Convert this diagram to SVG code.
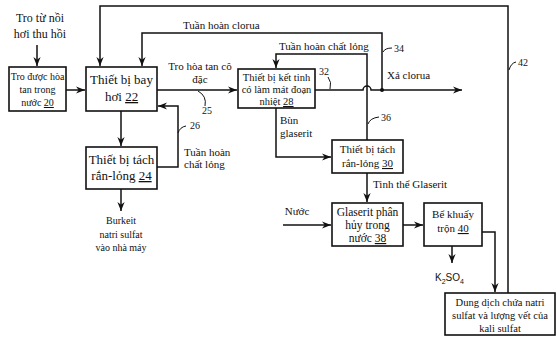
<svg xmlns="http://www.w3.org/2000/svg" width="557" height="340" viewBox="0 0 557 340">
<defs>
<marker id="ah" viewBox="0 0 10 10" refX="10" refY="5" markerWidth="9" markerHeight="9" markerUnits="userSpaceOnUse" orient="auto">
<path d="M0,1 L10,5 L0,9 L3,5 Z" fill="#111"/>
</marker>
</defs>
<style>
text{fill:#111;font-family:"Liberation Serif","Times New Roman","DejaVu Serif",serif;}
.box{fill:#fff;stroke:#111;stroke-width:1.6;}
.ln{fill:none;stroke:#111;stroke-width:1.5;}
.thin{fill:none;stroke:#111;stroke-width:1;}
.arr{marker-end:url(#ah);}
.c{text-anchor:middle;}
.l11{font-size:11px;}
.l10{font-size:10px;}
text.sans{font-family:"Liberation Sans",Arial,sans-serif;}
</style>
<rect width="557" height="340" fill="#fff"/>
<g id="connectors">
<path class="ln arr" d="M37,45 V66"/>
<path class="ln arr" d="M66,90 H85"/>
<path class="ln arr" d="M508,293 V6 H100 V66"/>
<path class="ln arr" d="M382,90 V33 H142 V66"/>
<circle cx="382" cy="90" r="2" fill="#111"/>
<path class="ln arr" d="M157,90 H237"/>
<path class="ln arr" d="M315,90 H363 A4,4 0 0 1 371,90 H462"/>
<path class="ln arr" d="M367,140 V54 H276 V68"/>
<path class="ln arr" d="M276,108 V157 H331"/>
<path class="ln arr" d="M121,111 V146"/>
<path class="ln arr" d="M121,189 V211"/>
<path class="ln arr" d="M157,167 H178 V106 H158"/>
<path class="ln arr" d="M367,173 V202"/>
<path class="ln arr" d="M283,225 H331"/>
<path class="ln arr" d="M403,225 H423"/>
<path class="ln arr" d="M452,246 V263"/>
<path class="ln arr" d="M482,232 H495 V292"/>
<path class="thin" d="M198,91 Q207,96 205,106"/>
<path class="thin" d="M178,133 Q180,127 186,126"/>
<path class="thin" d="M328,77 Q332,82 330,89"/>
<path class="thin" d="M383,52 Q385,48 392,48"/>
<path class="thin" d="M368,124 Q370,118 379,117"/>
<path class="thin" d="M509,70 Q511,63 516,62"/>
</g>
<g id="src">
<text x="40" y="22" class="c" font-size="12">Tro từ nồi</text>
<text x="40" y="38" class="c" font-size="12">hơi thu hồi</text>
</g>
<g id="n20">
<rect class="box" x="9" y="67" width="57" height="44"/>
<text x="37.5" y="80" class="c l10">Tro được hòa</text>
<text x="37.5" y="93" class="c l10">tan trong</text>
<text x="37.5" y="106" class="c l10">nước <tspan text-decoration="underline">20</tspan></text>
</g>
<g id="n22">
<rect class="box" x="86" y="67" width="71" height="44"/>
<text x="121.5" y="84" class="c" font-size="13">Thiết bị bay</text>
<text x="121.5" y="101" class="c" font-size="13">hơi <tspan text-decoration="underline">22</tspan></text>
</g>
<g id="n24">
<rect class="box" x="86" y="147" width="71" height="42"/>
<text x="121.5" y="164" class="c" font-size="13">Thiết bị tách</text>
<text x="121.5" y="180" class="c" font-size="13">rắn-lỏng <tspan text-decoration="underline">24</tspan></text>
</g>
<g id="burkeit">
<text x="121" y="224" class="c l10">Burkeit</text>
<text x="121" y="238" class="c l10">natri sulfat</text>
<text x="121" y="251" class="c l10">vào nhà máy</text>
</g>
<g id="n28">
<rect class="box" x="238" y="69" width="77" height="39"/>
<text x="276.5" y="81" class="c" font-size="10.5">Thiết bị kết tinh</text>
<text x="276.5" y="93" class="c" font-size="10.5">có làm mát đoạn</text>
<text x="276.5" y="105" class="c" font-size="10.5">nhiệt <tspan text-decoration="underline">28</tspan></text>
</g>
<g id="n30">
<rect class="box" x="332" y="140" width="71" height="33"/>
<text x="367.5" y="153" class="c l11">Thiết bị tách</text>
<text x="367.5" y="167" class="c l11">rắn-lỏng <tspan text-decoration="underline">30</tspan></text>
</g>
<g id="n38">
<rect class="box" x="332" y="203" width="71" height="43"/>
<text x="367.5" y="216" class="c" font-size="11.5">Glaserit phân</text>
<text x="367.5" y="229" class="c" font-size="11.5">hủy trong</text>
<text x="367.5" y="242" class="c" font-size="11.5">nước <tspan text-decoration="underline">38</tspan></text>
</g>
<g id="n40">
<rect class="box" x="424" y="203" width="58" height="43"/>
<text x="453" y="218" class="c l11">Bể khuấy</text>
<text x="453" y="232" class="c l11">trộn <tspan text-decoration="underline">40</tspan></text>
</g>
<g id="n42">
<rect class="box" x="445" y="293" width="110" height="42"/>
<text x="500" y="306" class="c" font-size="10.5">Dung dịch chứa natri</text>
<text x="500" y="319" class="c" font-size="10.5">sulfat và lượng vết của</text>
<text x="500" y="332" class="c" font-size="10.5">kali sulfat</text>
</g>
<g id="labels">
<text x="183" y="29" class="l11">Tuần hoàn clorua</text>
<text x="200" y="70" class="c l11">Tro hòa tan cô</text>
<text x="200" y="83" class="c l11">đặc</text>
<text x="207" y="114" class="c l10">25</text>
<text x="190" y="129" class="l10">26</text>
<text x="184" y="156" class="l11">Tuần hoàn</text>
<text x="184" y="168" class="l11">chất lỏng</text>
<text x="279" y="50" class="l11">Tuần hoàn chất lỏng</text>
<text x="319" y="75" class="l10">32</text>
<text x="394" y="52" class="l10">34</text>
<text x="387" y="79" class="l11">Xả clorua</text>
<text x="381" y="121" class="l10">36</text>
<text x="518" y="66" class="l10">42</text>
<text x="280" y="124" class="l11">Bùn</text>
<text x="280" y="137" class="l11">glaserit</text>
<text x="373" y="188" class="l11">Tinh thể Glaserit</text>
<text x="297" y="215" class="c l11">Nước</text>
<text x="435" y="281" class="sans" font-size="10">K<tspan font-size="7" dy="3">2</tspan><tspan dy="-3">SO</tspan><tspan font-size="7" dy="3">4</tspan></text>
</g>
</svg>
